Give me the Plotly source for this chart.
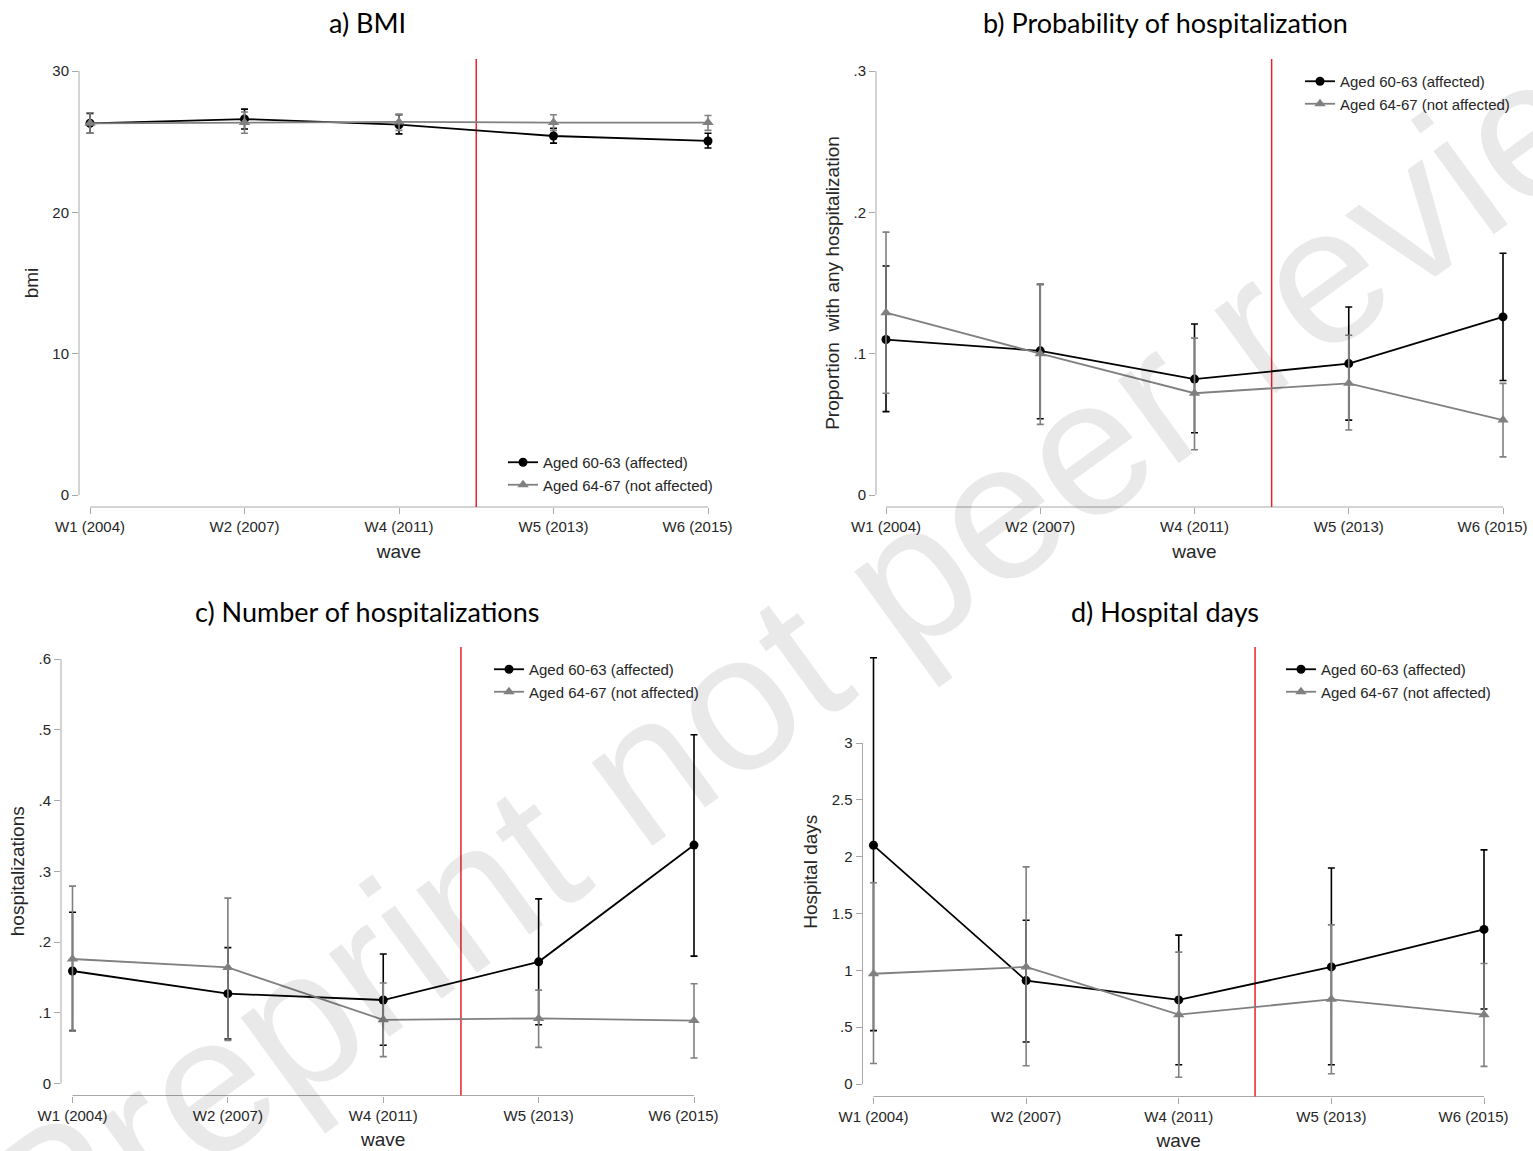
import plotly.graph_objects as go

# ---------------- data ----------------
waves = ["W1 (2004)", "W2 (2007)", "W4 (2011)", "W5 (2013)", "W6 (2015)"]
series_names = ["Aged 60-63 (affected)", "Aged 64-67 (not affected)"]

# a) BMI
bmi_aff = [26.3, 26.6, 26.2, 25.4, 25.05]
bmi_aff_lo = [25.6, 25.9, 25.55, 24.9, 24.55]
bmi_aff_hi = [27.0, 27.3, 26.9, 25.95, 25.6]
bmi_not = [26.3, 26.35, 26.4, 26.35, 26.35]
bmi_not_lo = [25.6, 25.6, 25.8, 25.8, 25.8]
bmi_not_hi = [27.05, 27.1, 26.95, 26.9, 26.85]

# b) Probability of hospitalization
prob_aff = [0.110, 0.102, 0.082, 0.093, 0.126]
prob_aff_lo = [0.059, 0.054, 0.044, 0.053, 0.081]
prob_aff_hi = [0.162, 0.149, 0.121, 0.133, 0.171]
prob_not = [0.129, 0.100, 0.072, 0.079, 0.053]
prob_not_lo = [0.072, 0.050, 0.032, 0.046, 0.027]
prob_not_hi = [0.186, 0.149, 0.111, 0.113, 0.079]

# c) Number of hospitalizations
num_aff = [0.159, 0.127, 0.118, 0.172, 0.337]
num_aff_lo = [0.075, 0.063, 0.054, 0.083, 0.180]
num_aff_hi = [0.242, 0.192, 0.183, 0.261, 0.493]
num_not = [0.176, 0.164, 0.090, 0.092, 0.089]
num_not_lo = [0.074, 0.061, 0.038, 0.051, 0.036]
num_not_hi = [0.279, 0.262, 0.142, 0.132, 0.141]

# d) Hospital days
days_aff = [2.10, 0.91, 0.74, 1.03, 1.36]
days_aff_lo = [0.47, 0.37, 0.17, 0.17, 0.66]
days_aff_hi = [3.75, 1.44, 1.31, 1.90, 2.06]
days_not = [0.97, 1.03, 0.61, 0.745, 0.61]
days_not_lo = [0.18, 0.16, 0.06, 0.09, 0.155]
days_not_hi = [1.77, 1.91, 1.16, 1.40, 1.06]

# tick labels
bmi_ticks = [0, 10, 20, 30]
bmi_ticktext = ["0", "10", "20", "30"]
prob_ticks = [0, 0.1, 0.2, 0.3]
prob_ticktext = ["0", ".1", ".2", ".3"]
num_ticks = [0, 0.1, 0.2, 0.3, 0.4, 0.5, 0.6]
num_ticktext = ["0", ".1", ".2", ".3", ".4", ".5", ".6"]
days_ticks = [0, 0.5, 1, 1.5, 2, 2.5, 3]
days_ticktext = ["0", ".5", "1", "1.5", "2", "2.5", "3"]

titles = ["a) BMI", "b) Probability of hospitalization",
          "c) Number of hospitalizations", "d) Hospital days"]
ytitles = ["bmi", "Proportion  with any hospitalization",
           "hospitalizations", "Hospital days"]
reform_after = "W4 (2011)"
reform_before = "W5 (2013)"

# ---------------- layout / styling ----------------
W, H = 1533, 1151
FONT = "Liberation Sans, Arial, sans-serif"
TITLE_FONT = "Lato, Open Sans, sans-serif"
AXIS_GREY = "#a8a8a8"
TICK_COLOR = "#262626"
BLACK = "#000000"
GREY = "#808080"
RED = "#e8222a"
NBSP = "\u00a0"

# last category label is nudged left (as in the original Stata graph)
wave_ticktext = waves[:-1] + [waves[-1] + NBSP * 5]

panels = [
    dict(data=(bmi_aff, bmi_aff_lo, bmi_aff_hi, bmi_not, bmi_not_lo, bmi_not_hi),
         ticks=bmi_ticks, ticktext=bmi_ticktext,
         xL=79, x0=90, x4=708, yTop=59, yBot=507, yv0=495, yv1=71,
         title_xy=(367, 22), legend_xy=(503, 446)),
    dict(data=(prob_aff, prob_aff_lo, prob_aff_hi, prob_not, prob_not_lo, prob_not_hi),
         ticks=prob_ticks, ticktext=prob_ticktext,
         xL=876, x0=886, x4=1503, yTop=59, yBot=507, yv0=495, yv1=71,
         title_xy=(1165, 22), legend_xy=(1300, 65)),
    dict(data=(num_aff, num_aff_lo, num_aff_hi, num_not, num_not_lo, num_not_hi),
         ticks=num_ticks, ticktext=num_ticktext,
         xL=61, x0=72.5, x4=694, yTop=647, yBot=1095.5, yv0=1083.5, yv1=659,
         title_xy=(367, 611), legend_xy=(489, 653)),
    dict(data=(days_aff, days_aff_lo, days_aff_hi, days_not, days_not_lo, days_not_hi),
         ticks=days_ticks, ticktext=days_ticktext,
         xL=862.5, x0=873.5, x4=1484, yTop=647, yBot=1096.5, yv0=1084, yv1=743,
         title_xy=(1165, 611), legend_xy=(1281, 653)),
]

fig = go.Figure()
layout = dict(
    width=W, height=H, margin=dict(l=0, r=0, t=0, b=0, autoexpand=False),
    paper_bgcolor="white", plot_bgcolor="white",
    showlegend=True, hovermode=False,
)
shapes = []
annotations = []
n = len(waves)
reform_x = (waves.index(reform_after) + waves.index(reform_before)) / 2

for i, p in enumerate(panels, start=1):
    s = "" if i == 1 else str(i)
    leg = "legend" if i == 1 else f"legend{i}"
    aff, aff_lo, aff_hi, nat, nat_lo, nat_hi = p["data"]
    for name, vals, lo, hi, col, sym, msize in [
        (series_names[0], aff, aff_lo, aff_hi, BLACK, "circle", 9),
        (series_names[1], nat, nat_lo, nat_hi, GREY, "triangle-up", 10),
    ]:
        fig.add_trace(go.Scatter(
            x=waves, y=vals, name=name, mode="lines+markers",
            legend=leg, xaxis="x" + s, yaxis="y" + s,
            line=dict(color=col, width=1.8),
            marker=dict(symbol=sym, size=msize, color=col),
            error_y=dict(type="data", symmetric=False,
                         array=[h - v for h, v in zip(hi, vals)],
                         arrayminus=[v - l for v, l in zip(vals, lo)],
                         color=col, thickness=1.6, width=3.5),
        ))

    # axis geometry
    ppu = (p["x4"] - p["x0"]) / (n - 1)
    xR = p["x4"] + (p["x0"] - p["xL"])
    xrange = [-(p["x0"] - p["xL"]) / ppu, (n - 1) + (xR - p["x4"]) / ppu]
    vmax = p["ticks"][-1]
    ppv = (p["yv0"] - p["yv1"]) / vmax
    yrange = [-(p["yBot"] - p["yv0"]) / ppv, vmax + (p["yv1"] - p["yTop"]) / ppv]

    layout["xaxis" + s] = dict(
        domain=[p["xL"] / W, xR / W], range=xrange, type="category",
        categoryorder="array", categoryarray=waves,
        tickmode="array", tickvals=waves, ticktext=wave_ticktext,
        anchor="y" + s, showline=False, showgrid=False, zeroline=False,
        ticks="outside", ticklen=6, tickcolor=AXIS_GREY, tickwidth=1,
        tickfont=dict(family=FONT, size=15, color=TICK_COLOR),
        title=dict(text="wave", font=dict(family=FONT, size=19, color=TICK_COLOR),
                   standoff=10),
    )
    layout["yaxis" + s] = dict(
        domain=[1 - p["yBot"] / H, 1 - p["yTop"] / H], range=yrange,
        anchor="x" + s, showline=False, showgrid=False, zeroline=False,
        tickmode="array", tickvals=p["ticks"], ticktext=p["ticktext"],
        ticks="outside", ticklen=6, tickcolor=AXIS_GREY, tickwidth=1,
        tickfont=dict(family=FONT, size=15, color=TICK_COLOR),
        title=dict(text=ytitles[i - 1], font=dict(family=FONT, size=19, color=TICK_COLOR),
                   standoff=8),
    )
    # Stata-style axis lines spanning only the tick range
    shapes.append(dict(type="line", xref=f"x{s} domain", x0=0, x1=0,
                       yref="y" + s, y0=0, y1=vmax,
                       line=dict(color=AXIS_GREY, width=1), layer="below"))
    shapes.append(dict(type="line", xref="x" + s, x0=0, x1=n - 1,
                       yref=f"y{s} domain", y0=0, y1=0,
                       line=dict(color=AXIS_GREY, width=1), layer="below"))
    # reform line
    shapes.append(dict(type="line", xref="x" + s, x0=reform_x, x1=reform_x,
                       yref=f"y{s} domain", y0=0, y1=1,
                       line=dict(color=RED, width=1.5), layer="below"))
    # panel title
    tx, ty = p["title_xy"]
    annotations.append(dict(text=titles[i - 1], xref="paper", yref="paper",
                            x=tx / W, y=1 - ty / H, xanchor="center", yanchor="middle",
                            showarrow=False,
                            font=dict(family=TITLE_FONT, size=27, color="black")))
    lx, ly = p["legend_xy"]
    layout[leg] = dict(x=lx / W, y=1 - ly / H, xanchor="left", yanchor="top",
                       bgcolor="rgba(0,0,0,0)", borderwidth=0, itemwidth=30,
                       tracegroupgap=0,
                       font=dict(family=FONT, size=15, color=TICK_COLOR))

# watermark
annotations.append(dict(text="Preprint not peer reviewed", xref="paper", yref="paper",
                        x=930 / W, y=1 - 560 / H, xanchor="center", yanchor="middle",
                        textangle=-36, showarrow=False,
                        font=dict(family=FONT, size=195, color="rgba(0,0,0,0.085)")))

layout["shapes"] = shapes
layout["annotations"] = annotations
fig.update_layout(**layout)
fig.write_html("out.html")
